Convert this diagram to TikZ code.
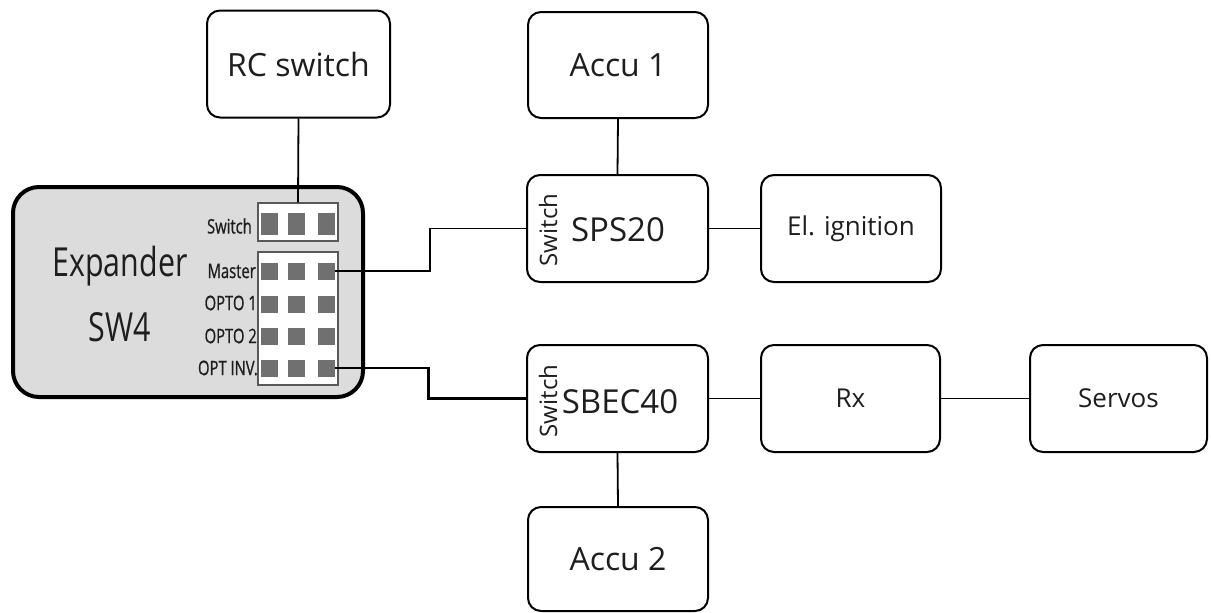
\documentclass[tikz,border=0pt]{standalone}
\usepackage{fontspec}
\setmainfont{Open Sans}
\newfontfamily\condfont[FakeStretch=0.76]{Open Sans}
\newfontfamily\condboldfont[FakeStretch=0.74,FakeBold=0.8]{Open Sans}
\definecolor{expfill}{HTML}{DCDCDC}
\definecolor{pin}{HTML}{707070}
\definecolor{txt}{HTML}{1E1E1E}
\begin{document}
\begin{tikzpicture}[x=1pt,y=-1pt,
  box/.style={draw=black,line width=2pt,rounded corners=13pt,fill=white,
    inner sep=0pt,text=txt,font=\fontsize{32}{36}\selectfont},
  smallbox/.style={box,font=\fontsize{26}{30}\selectfont},
  expbox/.style={draw=black,line width=4pt,rounded corners=26pt,fill=expfill,
    minimum width=350pt,minimum height=210pt,inner sep=0pt},
  conn/.style={draw=black!65,line width=1.2pt,fill=white,inner sep=0pt,
    minimum width=80pt},
  pinsq/.style={fill=pin,inner sep=0pt,minimum width=17pt,minimum height=17pt},
  plabel/.style={anchor=east,inner sep=0pt,text=txt,
    font=\condboldfont\fontsize{20}{22}\selectfont},
  biglabel/.style={inner sep=0pt,text=txt,font=\condfont\fontsize{40}{44}\selectfont},
  rotlabel/.style={rotate=90,inner sep=0pt,text=txt,font=\fontsize{24}{26}\selectfont},
  wire/.style={line width=1.8pt},
  thickwire/.style={line width=2.6pt}]
\useasboundingbox (0,0) rectangle (1211,613);

% boxes
\node[box,minimum width=183pt,minimum height=107pt] (rc) at (298.5,64) {RC switch};
\node[box,minimum width=180pt,minimum height=106pt] (accu1) at (618,65) {Accu 1};
\node[box,minimum width=181pt,minimum height=107pt] (sps) at (617.5,228.5) {};
\node[smallbox,minimum width=180pt,minimum height=107pt] (ign) at (851,228.5) {El. ignition};
\node[box,minimum width=181pt,minimum height=107pt] (sbec) at (617.5,398.5) {};
\node[smallbox,minimum width=179pt,minimum height=107pt] (rx) at (850.5,398.5) {Rx};
\node[smallbox,minimum width=177pt,minimum height=107pt] (servos) at (1118.5,398.5) {Servos};
\node[box,minimum width=180pt,minimum height=104pt] (accu2) at (618,559) {Accu 2};

% texts inside SPS20 / SBEC40
\node[rotlabel] (spssw) at (548,230) {Switch};
\node[inner sep=0pt,text=txt,font=\fontsize{33}{36}\selectfont] (spst) at (618,230) {SPS20};
\node[rotlabel] (sbecsw) at (548,401) {Switch};
\node[inner sep=0pt,text=txt,font=\fontsize{33}{36}\selectfont] (sbect) at (620,402) {SBEC40};

% expander
\node[expbox] (exp) at (188,292) {};
\node[biglabel] (expa) at (120,266) {Expander};
\node[biglabel] (expb) at (120,327) {SW4};

% connectors on expander
\node[conn,minimum height=38pt] (swc) at (298,222) {};
\node[conn,minimum height=133pt] (mainc) at (298,318.5) {};
\foreach \x [count=\i] in {269,296,326}{
  \node[pinsq,minimum height=22pt] (sw\i) at (\x,224) {};
  \foreach \y [count=\j] in {271,304,336,368}{
    \node[pinsq] (p\j\i) at (\x,\y) {};
  }
}
\node[plabel] (lsw) at (252,226) {Switch};
\node[plabel] (lm) at (256,271) {Master};
\node[plabel] (lo1) at (257,303) {OPTO 1};
\node[plabel] (lo2) at (257,336) {OPTO 2};
\node[plabel] (loi) at (258,368) {OPT INV.};

% wires
\draw[wire] (rc.south) -- (swc.north);
\draw[wire] (accu1.south) -- (sps.north);
\draw[wire] (sps.east) -- (ign.west);
\draw[wire] (sbec.east) -- (rx.west);
\draw[wire] (rx.east) -- (servos.west);
\draw[wire] (sbec.south) -- (accu2.north);
\draw[wire] (p13.east) -- ++(95,0) |- (sps.west);
\draw[thickwire] (p43.east) -- ++(94,0) |- (sbec.west);
\end{tikzpicture}
\end{document}
